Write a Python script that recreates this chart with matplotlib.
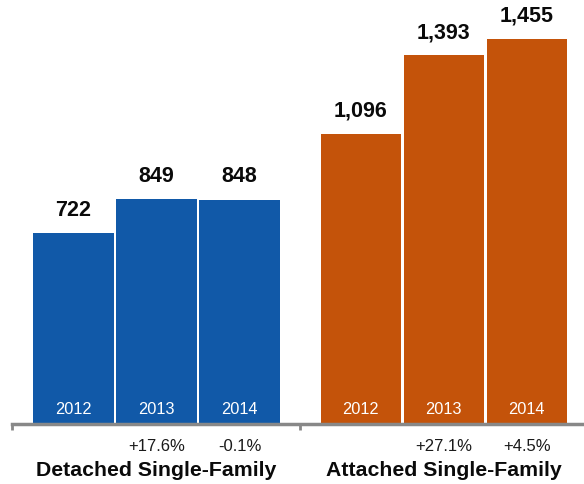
import matplotlib
matplotlib.use("Agg")
import matplotlib.pyplot as plt
import numpy as np

plt.rcParams['font.family'] = ['Liberation Sans', 'DejaVu Sans']

years = ["2012", "2013", "2014"]
groups = ["Detached Single-Family", "Attached Single-Family"]
detached = [722, 849, 848]
attached = [1096, 1393, 1455]
detached_change = ["", "+17.6%", "-0.1%"]
attached_change = ["", "+27.1%", "+4.5%"]
colors = ["#1159A8", "#C4530A"]

fig = plt.figure(figsize=(5.84, 4.85), dpi=100)
ax = fig.add_axes([0, 60 / 485, 1, 425 / 485])

group_offset = 3.46
width = 0.965
series = [(detached, detached_change), (attached, attached_change)]

for g, (values, changes) in enumerate(series):
    x = np.arange(len(values)) + g * group_offset
    ax.bar(x, values, width=width, color=colors[g], linewidth=0)
    for xi, v, yr, ch in zip(x, values, years, changes):
        ax.text(xi, v + 50, f"{v:,}", ha="center", va="bottom",
                fontsize=15.5, fontweight="bold", color="#0a0a0a")
        ax.text(xi, 60, yr, ha="center", va="center", fontsize=11.8,
                color="white")
        if ch:
            ax.text(xi, -82, ch, ha="center", va="center", fontsize=12,
                    color="#1a1a1a", clip_on=False)
    ax.text(x[1], -172, groups[g], ha="center", va="center", fontsize=15.3,
            fontweight="bold", color="#0a0a0a", clip_on=False)

xmin = -73.5 / 83
xmax = (584 - 73.5) / 83
ax.set_xlim(xmin, xmax)
ax.set_ylim(0, 1455 * 425 / 385)

# baseline with small ticks at the group boundaries
ax.axhline(0, xmin=12 / 584, xmax=1, color="#888888", linewidth=2.5,
           clip_on=False)
for px in (12, 300):
    xd = xmin + px / 83
    ax.plot([xd, xd], [0, -22], color="#888888", linewidth=2,
            clip_on=False, solid_capstyle="butt")

ax.axis("off")
fig.savefig("out.png", dpi=100)
